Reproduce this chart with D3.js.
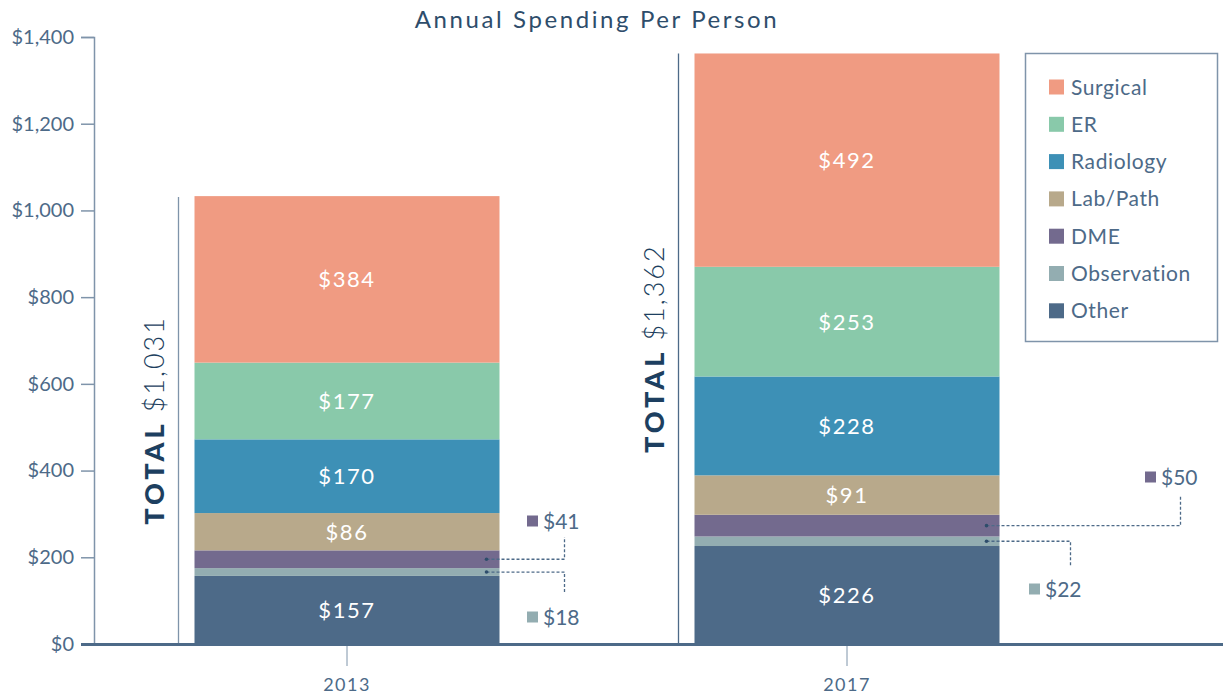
<!DOCTYPE html>
<html>
<head>
<meta charset="utf-8">
<script src="https://cdn.jsdelivr.net/npm/d3@7"></script>
<style>
  body { margin: 0; background: #fff; }
  svg text { font-family: Lato, "Open Sans", sans-serif; }
</style>
</head>
<body>
<div class="chart-holder"></div>
<script>
// data
const years = ['2013', '2017'];
const categories = ['Other', 'Observation', 'DME', 'Lab/Path', 'Radiology', 'ER', 'Surgical'];
const values2013 = [157, 18, 41, 86, 170, 177, 384];
const values2017 = [226, 22, 50, 91, 228, 253, 492];
const totals = [1031, 1362];
const yTicks = [0, 200, 400, 600, 800, 1000, 1200, 1400];
const colors = ['#4d6a88', '#93adb1', '#736a8e', '#b8a98b', '#3d90b6', '#89c9aa', '#f09b82'];
const calloutCats = ['DME', 'Observation'];

const W = 1223, H = 694;
const svg = d3.select('.chart-holder').append('svg')
  .attr('width', W).attr('height', H);

const textCol = '#4d6a88';
const axisCol = '#7f94aa';

const x = d3.scaleBand().domain(years).range([97, 1097])
  .paddingInner(0.39).paddingOuter(0.195);
const y = d3.scaleLinear().domain([0, 1400]).range([644, 37]);
const color = d3.scaleOrdinal().domain(categories).range(colors);

// table for stack
const rows = years.map((yr, i) => {
  const vals = i === 0 ? values2013 : values2017;
  const r = { year: yr };
  categories.forEach((c, j) => r[c] = vals[j]);
  return r;
});
const series = d3.stack().keys(categories)(rows);

// title
svg.append('text')
  .attr('x', 597).attr('y', 28)
  .attr('text-anchor', 'middle')
  .attr('font-size', 24).attr('letter-spacing', 2.6)
  .attr('fill', '#2e4d6b')
  .text('Annual Spending Per Person');

// y axis
const yAxis = svg.append('g')
  .attr('transform', 'translate(94,0)')
  .call(d3.axisLeft(y).tickValues(yTicks).tickSize(13).tickPadding(7)
    .tickFormat(d => '$' + d3.format(',')(d)));
yAxis.select('.domain').attr('stroke', axisCol).attr('stroke-width', 1.5);
yAxis.selectAll('.tick line').attr('stroke', axisCol).attr('stroke-width', 1.5);
yAxis.selectAll('.tick text')
  .attr('fill', textCol).attr('font-size', 20)
  .attr('font-family', 'Lato, sans-serif');

// total guide lines + labels
years.forEach((yr, i) => {
  const lx = x(yr) - 16;
  svg.append('line')
    .attr('x1', lx).attr('x2', lx)
    .attr('y1', y(totals[i])).attr('y2', y(0))
    .attr('stroke', i === 0 ? axisCol : '#4d6a88').attr('stroke-width', 1.3);
  const cy = (y(totals[i]) + y(0)) / 2;
  const t = svg.append('text')
    .attr('transform', `translate(${lx - 15},${cy}) rotate(-90)`)
    .attr('text-anchor', 'middle')
    .attr('font-size', 27).attr('fill', '#1d3f60');
  t.append('tspan').attr('font-weight', 900).attr('letter-spacing', 4).text('TOTAL');
  t.append('tspan').attr('font-weight', 300).attr('letter-spacing', 2)
    .attr('dx', 8).text('$' + d3.format(',')(totals[i]));
});

// bars
const layer = svg.selectAll('g.layer')
  .data(series)
  .enter().append('g')
  .attr('class', 'layer')
  .attr('fill', d => color(d.key));

layer.selectAll('rect')
  .data(d => d)
  .enter().append('rect')
  .attr('x', d => x(d.data.year))
  .attr('y', d => y(d[1]))
  .attr('width', x.bandwidth())
  .attr('height', d => y(d[0]) - y(d[1]));

// value labels inside bars (big segments only)
series.forEach(s => {
  if (calloutCats.includes(s.key)) return;
  s.forEach(d => {
    svg.append('text')
      .attr('x', x(d.data.year) + x.bandwidth() / 2)
      .attr('y', (y(d[0]) + y(d[1])) / 2)
      .attr('dy', '0.36em')
      .attr('text-anchor', 'middle')
      .attr('font-size', 22).attr('letter-spacing', 1.6)
      .attr('fill', '#fff')
      .text('$' + (d[1] - d[0]));
  });
});

// callouts for small segments
const callout = [
  { yi: 0, cat: 'DME', dx: 65, endY: 537, labX: 527, labY: 521 },
  { yi: 0, cat: 'Observation', dx: 65, endY: 594, labX: 527, labY: 617 },
  { yi: 1, cat: 'DME', dx: 181, endY: 496, labX: 1145, labY: 477 },
  { yi: 1, cat: 'Observation', dx: 71, endY: 567, labX: 1029, labY: 589 }
];
callout.forEach(c => {
  const s = series.find(s => s.key === c.cat);
  const d = s[c.yi];
  const right = x(years[c.yi]) + x.bandwidth();
  const my = (y(d[0]) + y(d[1])) / 2;
  const ex = right + c.dx;
  svg.append('path')
    .attr('d', `M${right - 13},${my}H${ex}V${c.endY}`)
    .attr('fill', 'none').attr('stroke', textCol)
    .attr('stroke-width', 1.3).attr('stroke-dasharray', '3,2');
  svg.append('circle')
    .attr('cx', right - 13).attr('cy', my).attr('r', 1.8).attr('fill', '#2e4d6b');
  svg.append('rect')
    .attr('x', c.labX).attr('y', c.labY - 5.5)
    .attr('width', 11).attr('height', 11)
    .attr('fill', color(c.cat));
  svg.append('text')
    .attr('x', c.labX + 16).attr('y', c.labY)
    .attr('dy', '0.36em')
    .attr('font-size', 21).attr('fill', textCol)
    .text('$' + (d[1] - d[0]));
});

// x axis
const xAxis = svg.append('g')
  .attr('transform', 'translate(0,646)')
  .call(d3.axisBottom(x).tickSize(20).tickPadding(12));
xAxis.select('.domain').remove();
xAxis.selectAll('.tick line').attr('stroke', axisCol).attr('stroke-width', 1);
xAxis.selectAll('.tick text')
  .attr('fill', textCol).attr('font-size', 18).attr('letter-spacing', 1.5)
  .attr('font-family', 'Lato, sans-serif');
svg.append('line')
  .attr('x1', 81).attr('x2', W)
  .attr('y1', 644.5).attr('y2', 644.5)
  .attr('stroke', '#4d6a88').attr('stroke-width', 3);

// legend
const legend = svg.append('g');
legend.append('rect')
  .attr('x', 1025.5).attr('y', 53.5)
  .attr('width', 192).attr('height', 288)
  .attr('fill', '#fff').attr('stroke', axisCol).attr('stroke-width', 1.5);
const legendItems = categories.slice().reverse();
legendItems.forEach((c, i) => {
  const ly = 87 + i * 37.3;
  legend.append('rect')
    .attr('x', 1049).attr('y', ly - 7.5)
    .attr('width', 15).attr('height', 15)
    .attr('fill', color(c));
  legend.append('text')
    .attr('x', 1071).attr('y', ly)
    .attr('dy', '0.36em')
    .attr('font-size', 21).attr('letter-spacing', 0.6).attr('fill', textCol)
    .text(c);
});
</script>
</body>
</html>
